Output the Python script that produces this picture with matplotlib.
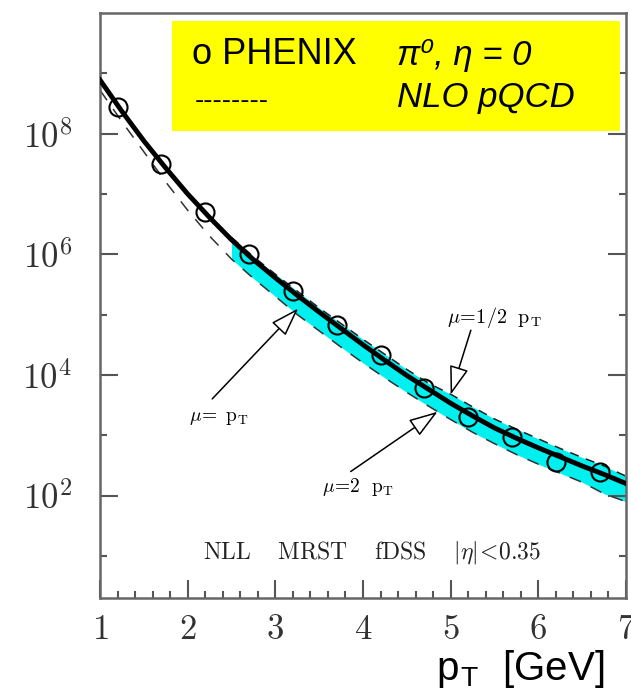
import matplotlib
matplotlib.use('Agg')
import matplotlib.pyplot as plt
from matplotlib.patches import Rectangle
from matplotlib.ticker import NullFormatter

plt.rcParams['mathtext.fontset'] = 'cm'

# PHENIX pi0 points
phenix_pt = [1.2, 1.7, 2.2, 2.7, 3.2, 3.7, 4.2, 4.7, 5.2, 5.7, 6.2, 6.7]
phenix_yield = [2.75e8, 3.1e7, 5.1e6, 1.0e6, 2.5e5, 6.6e4, 2.1e4, 6.0e3,
                2.0e3, 9.5e2, 3.6e2, 2.5e2]

# NLL curve, mu = pT
nll_pt = [1.0, 1.25, 1.5, 1.75, 2.0, 2.25, 2.5, 2.75, 3.0, 3.25, 3.5, 3.75, 4.0,
          4.25, 4.5, 4.75, 5.0, 5.25, 5.5, 5.75, 6.0, 6.25, 6.5, 6.75, 7.0]
nll_yield = [7.76e8, 2.34e8, 7.59e7, 2.69e7, 1.0e7, 4.07e6, 1.74e6, 8.13e5,
             4.07e5, 2.09e5, 1.10e5, 5.89e4, 3.16e4, 1.74e4, 9.77e3, 5.75e3,
             3.39e3, 2.09e3, 1.32e3, 8.91e2, 6.17e2, 4.37e2, 3.09e2, 2.24e2, 1.58e2]

# NLO pQCD dashed (continues as lower edge of the band, mu = 2 pT)
nlo_pt = nll_pt
nlo_yield = [5.25e8, 1.58e8, 5.01e7, 1.58e7, 5.37e6, 2.0e6, 8.32e5, 3.98e5,
             2.0e5, 1.0e5, 5.37e4, 2.88e4, 1.58e4, 8.91e3, 5.13e3, 3.02e3,
             1.82e3, 1.12e3, 7.24e2, 4.79e2, 3.31e2, 2.34e2, 1.66e2, 1.07e2, 7.9e1]

# upper band edge, mu = 1/2 pT
band_pt = [2.5, 2.75, 3.0, 3.25, 3.5, 3.75, 4.0, 4.25, 4.5, 4.75, 5.0, 5.25,
           5.5, 5.75, 6.0, 6.25, 6.5, 6.75, 7.0]
band_hi = [1.91e6, 9.12e5, 4.68e5, 2.45e5, 1.29e5, 7.08e4, 3.89e4, 2.19e4,
           1.23e4, 7.24e3, 4.79e3, 2.95e3, 1.86e3, 1.26e3, 8.71e2, 6.03e2,
           4.27e2, 3.09e2, 2.09e2]
band_lo = nlo_yield[6:]

fig = plt.figure(figsize=(6.31, 6.91), dpi=100)
ax = fig.add_axes([100/631, 93/691, 526/631, 585/691])

ax.fill_between(band_pt, band_lo, band_hi, color='#00f0f0', lw=0, zorder=1)
ax.plot(band_pt, band_hi, color='#222222', lw=1.1, ls=(0, (6, 5)), zorder=2)
ax.plot(nlo_pt, nlo_yield, color='#333333', lw=1.1, ls=(0, (8, 7)), zorder=2)
ax.plot(nll_pt, nll_yield, color='black', lw=3.5, zorder=3)
ax.plot(phenix_pt, phenix_yield, 'o', ms=13, mfc='none', mec='black', mew=1.5, zorder=4)

ax.set_yscale('log')
ax.set_xlim(1, 7)
ax.set_ylim(2, 1e10)
ax.set_xticks([1, 2, 3, 4, 5, 6, 7])
ax.set_xticks([1 + 0.2 * i for i in range(31)], minor=True)
ax.set_yticks([1e2, 1e4, 1e6, 1e8])
ax.set_yticks([1e1, 1e3, 1e5, 1e7, 1e9], minor=True)
ax.yaxis.set_minor_formatter(NullFormatter())
ax.set_yticklabels([r'$10^2$', r'$10^4$', r'$10^6$', r'$10^8$'])
ax.set_xticklabels(['$%d$' % v for v in range(1, 8)])
ax.tick_params(which='both', direction='in', colors='#555555', labelcolor='#333333',
               right=True, top=False, width=1.5)
ax.tick_params(which='major', length=13, labelsize=25)
ax.tick_params(axis='x', which='major', pad=10)
ax.tick_params(axis='y', which='major', pad=20)
ax.tick_params(which='minor', length=5)
for s in ax.spines.values():
    s.set_color('#666666')
    s.set_linewidth(1.8)

arrow = dict(arrowstyle='-|>,head_length=1.5,head_width=0.5', fc='white', ec='black',
             lw=1.1, mutation_scale=12, shrinkA=0, shrinkB=0)
ax.annotate('', xy=(3.26, 1.26e5), xytext=(2.28, 4.0e3), arrowprops=arrow)
ax.annotate('', xy=(5.0, 4.7e3), xytext=(5.23, 5.5e4), arrowprops=arrow)
ax.annotate('', xy=(4.85, 2.45e3), xytext=(3.86, 2.5e2), arrowprops=arrow)
ax.text(2.35, 1.95e3, r'$\mu\!=\ \mathrm{p_T}$', fontsize=14, ha='center', va='center')
ax.text(5.5, 8.9e4, r'$\mu\!=\!1/2\ \ \mathrm{p_T}$', fontsize=14.5, ha='center', va='center')
ax.text(3.94, 1.4e2, r'$\mu\!=\!2\ \ \mathrm{p_T}$', fontsize=14, ha='center', va='center')
ax.text(4.1, 11.5, r'$\mathrm{NLL\quad\ MRST\quad\ fDSS\quad\ }|\eta|\!<\!0.35$',
        fontsize=17, ha='center', va='center', color='#222222')

# yellow legend box
fig.patches.append(Rectangle((172/631, 560/691), 448/631, 110/691,
                             transform=fig.transFigure, fc='#ffff00', ec='none', zorder=5))
sans = ['Liberation Sans', 'DejaVu Sans']
fig.text(192/631, 636/691, 'o PHENIX', fontsize=26, family=sans, va='center', zorder=6)
fig.text(397/631, 636/691, 'π⁰, η = 0', fontsize=25, family=sans, style='italic',
         va='center', zorder=6)
fig.text(195/631, 590/691, '--------', fontsize=20, family=sans, va='center', zorder=6)
fig.text(397/631, 594/691, 'NLO pQCD', fontsize=25, family=sans, style='italic',
         va='center', zorder=6)

fig.text(436/631, 1/691, r'p$_\mathregular{T}$  [GeV]', fontsize=29, family=sans,
         va='bottom')

fig.savefig('out.png', dpi=100)
